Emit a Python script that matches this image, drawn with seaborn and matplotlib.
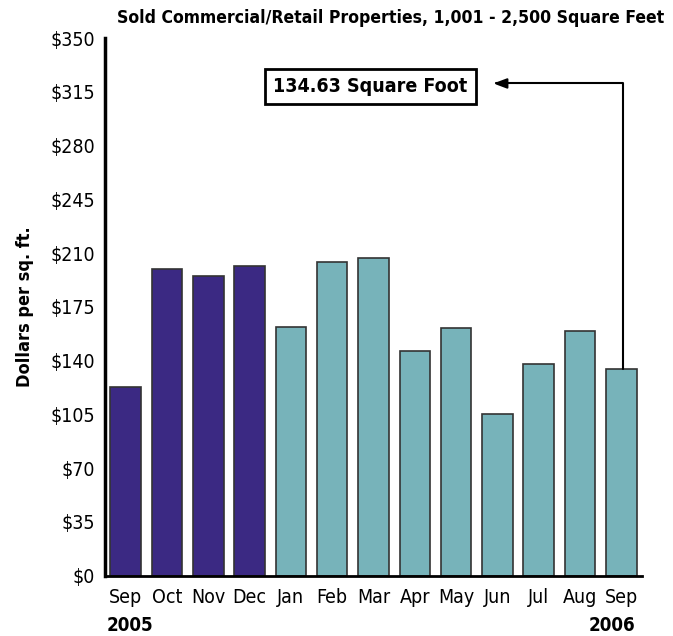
import pandas as pd
import matplotlib.pyplot as plt
import seaborn as sns

# Sold commercial/retail properties, 1,001 - 2,500 sq ft, dollars per sq ft
periods = ["Sep 2005", "Oct 2005", "Nov 2005", "Dec 2005", "Jan 2006", "Feb 2006",
           "Mar 2006", "Apr 2006", "May 2006", "Jun 2006", "Jul 2006", "Aug 2006",
           "Sep 2006"]
months = ["Sep", "Oct", "Nov", "Dec", "Jan", "Feb", "Mar", "Apr", "May", "Jun",
          "Jul", "Aug", "Sep"]
years = ["2005"] * 4 + ["2006"] * 9
price = [123.0, 199.5, 195.0, 201.5, 162.0, 204.0, 207.0, 146.5, 161.5, 105.5,
         137.5, 159.5, 134.63]
y_ticks = [0, 35, 70, 105, 140, 175, 210, 245, 280, 315, 350]

df = pd.DataFrame({"period": periods, "price": price, "year": years})

sns.set_style("white")
plt.rcParams["font.family"] = ["DejaVu Sans"]
plt.rcParams["font.stretch"] = "condensed"
plt.rcParams["text.color"] = "black"
plt.rcParams["axes.labelcolor"] = "black"
plt.rcParams["xtick.color"] = "black"
plt.rcParams["ytick.color"] = "black"

fig = plt.figure(figsize=(6.73, 6.36), dpi=100)
ax = fig.add_axes([0.156, 0.095, 0.798, 0.845])

sns.barplot(
    data=df, x="period", y="price", hue="year", order=periods,
    palette={"2005": "#3B2983", "2006": "#77B3BA"}, saturation=1,
    dodge=False, width=0.74, edgecolor="#333333", linewidth=1.2,
    legend=False, ax=ax,
)

ax.set_xlim(-0.5, len(periods) - 0.5)
ax.set_ylim(0, 350)
ax.set_yticks(y_ticks)
ax.set_yticklabels([f"${v}" for v in y_ticks], fontsize=14)
ax.set_xticks(range(len(months)))
ax.set_xticklabels(months, fontsize=14)
ax.tick_params(axis="y", direction="in", length=10, width=2, pad=7)
ax.tick_params(axis="x", length=0, pad=9)

for side in ["top", "right"]:
    ax.spines[side].set_visible(False)
ax.spines["left"].set_linewidth(2.5)
ax.spines["bottom"].set_linewidth(2)
ax.spines["left"].set_color("black")
ax.spines["bottom"].set_color("black")

ax.set_xlabel("")
ax.set_ylabel("Dollars per sq. ft.", fontsize=13, fontweight="bold", labelpad=12)

fig.text(0.58, 0.972, "Sold Commercial/Retail Properties, 1,001 - 2,500 Square Feet",
         ha="center", va="center", fontsize=12.6, fontweight="bold")

# year markers under the month labels
ax.text(-0.45, -0.092, years[0], transform=ax.get_xaxis_transform(),
        ha="left", va="center", fontsize=13.5, fontweight="bold")
ax.text(len(periods) - 0.67, -0.092, years[-1], transform=ax.get_xaxis_transform(),
        ha="right", va="center", fontsize=13.5, fontweight="bold")

# callout for the latest month
last = len(periods) - 1
ax.annotate(
    "", xy=(8.9, 320.5), xytext=(last + 0.05, price[-1]),
    arrowprops=dict(arrowstyle="-|>,head_length=0.8,head_width=0.3",
                    connectionstyle="angle,angleA=90,angleB=0,rad=0",
                    color="black", lw=1.5, shrinkA=0, shrinkB=0),
)
ax.text(5.92, 318.7, f"{price[-1]:.2f} Square Foot", ha="center", va="center",
        fontsize=14, fontweight="bold",
        bbox=dict(boxstyle="square,pad=0.42", facecolor="white",
                  edgecolor="black", linewidth=2))

fig.savefig("out.png", dpi=100)
